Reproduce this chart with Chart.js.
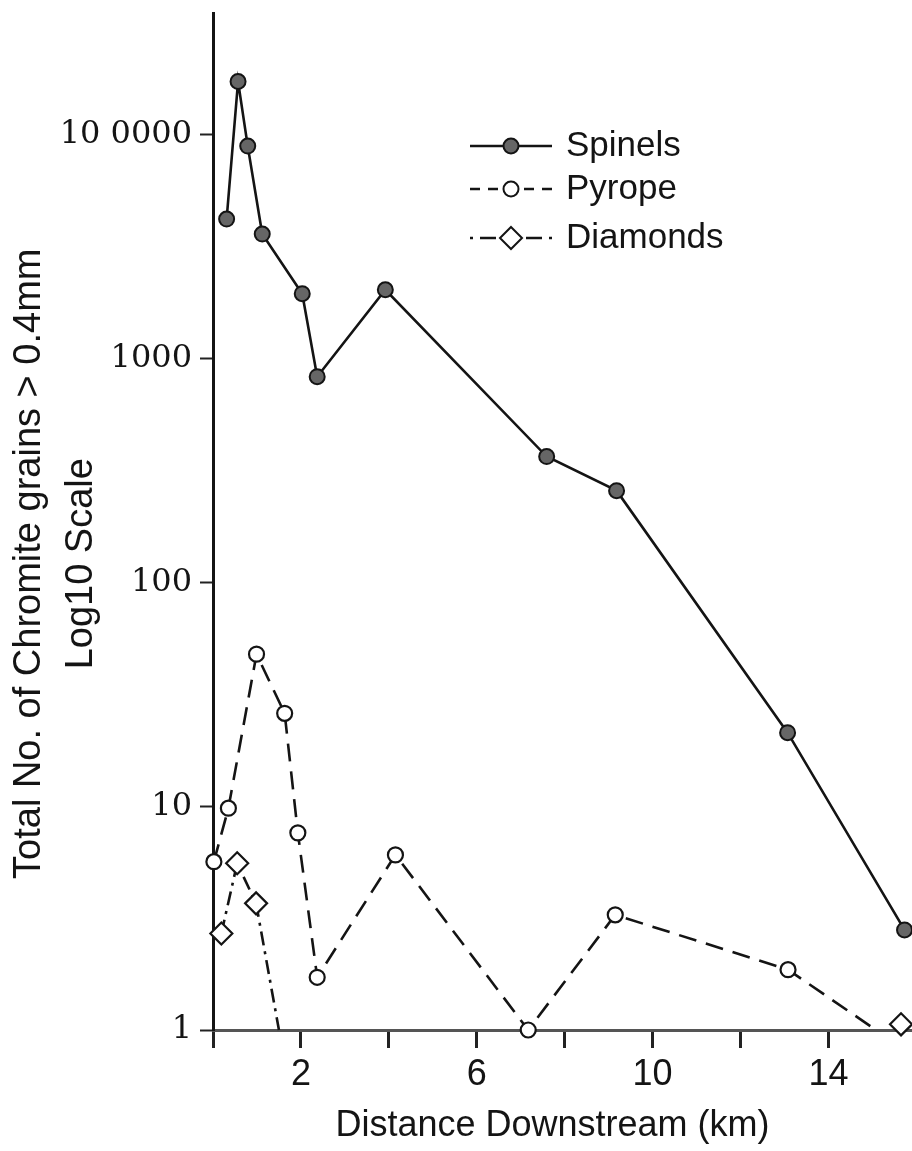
<!DOCTYPE html>
<html><head><meta charset="utf-8">
<script src="https://cdn.jsdelivr.net/npm/chart.js@4/dist/chart.umd.min.js"></script>
<style>html,body{margin:0;padding:0;background:#fff;overflow:hidden}#wrap{width:912px;height:1151px}canvas{display:block}</style>
</head><body><div id="wrap"><canvas id="c" width="912" height="1151"></canvas></div>
<script>
// ---- data ----
const seriesNames = ['Spinels', 'Pyrope', 'Diamonds'];
const spinelKm     = [0.31, 0.57, 0.79, 1.12, 2.03, 2.37, 3.92, 7.59, 9.18, 13.07, 15.73];
const spinelCount  = [4200, 17300, 8900, 3600, 1950, 830, 2030, 365, 257, 21.3, 2.8];
const pyropeKm     = [0.02, 0.35, 0.99, 1.63, 1.93, 2.37, 4.15, 7.17, 9.15, 13.08, 15.08];
const pyropeCount  = [5.65, 9.8, 47.8, 26, 7.6, 1.72, 6.06, 1.0, 3.27, 1.86, 1.0];
const diamondKm    = [0.19, 0.55, 0.98, 1.5, 15.65];
const diamondCount = [2.7, 5.56, 3.68, 1.0, 1.06];
const yTickValues  = [1, 10, 100, 1000, 10000];
const yTickLabels  = ['1', '10', '100', '1000', '10 0000'];
const xTickValues  = [0, 2, 4, 6, 8, 10, 12, 14];
const xTickLabels  = ['', '2', '', '6', '', '10', '', '14'];
const xTitle = 'Distance Downstream (km)';
const yTitle = ['Total No. of Chromite grains > 0.4mm', 'Log10 Scale'];

const pts = (xs, ys) => xs.map((x, i) => ({x: x, y: ys[i]}));
const INK = '#141414';
const SANS = '"Liberation Sans", Arial, sans-serif';
const YPAD = '        '; // trailing spaces nudge the rotated title down a little
const XPAD = '  ';       // and the x title a little to the left

const legendPlugin = {
  id: 'customLegend',
  afterDraw(chart) {
    const ctx = chart.ctx;
    const x0 = 470, x1 = 552, xm = 511, rows = [146, 189, 238];
    chart.data.datasets.forEach((ds, i) => {
      const y = rows[i];
      ctx.save();
      ctx.strokeStyle = INK; ctx.lineWidth = 2.5;
      ctx.setLineDash(ds.legendDash);
      ctx.beginPath(); ctx.moveTo(x0, y); ctx.lineTo(x1, y); ctx.stroke();
      ctx.setLineDash([]);
      ctx.fillStyle = ds.pointBackgroundColor; ctx.lineWidth = 2;
      ctx.beginPath();
      if (ds.pointStyle === 'rectRot') {
        const r = 11;
        ctx.moveTo(xm, y - r); ctx.lineTo(xm + r, y); ctx.lineTo(xm, y + r); ctx.lineTo(xm - r, y); ctx.closePath();
      } else {
        ctx.arc(xm, y, 7.5, 0, Math.PI * 2);
      }
      ctx.fill(); ctx.stroke();
      ctx.fillStyle = INK;
      ctx.font = '35px ' + SANS;
      ctx.textBaseline = 'middle';
      ctx.fillText(ds.label, 566, y);
      ctx.restore();
    });
  }
};

new Chart(document.getElementById('c'), {
  type: 'scatter',
  data: {
    datasets: [
      {
        label: seriesNames[0], data: pts(spinelKm, spinelCount), showLine: true,
        borderColor: INK, borderWidth: 2.6, legendDash: [],
        pointStyle: 'circle', pointRadius: 7.5, pointBorderWidth: 2,
        pointBackgroundColor: '#666', pointBorderColor: INK, clip: false
      },
      {
        label: seriesNames[1], data: pts(pyropeKm, pyropeCount), showLine: true,
        borderColor: INK, borderWidth: 2.6, borderDash: [18, 10], legendDash: [10, 8],
        pointStyle: 'circle', pointBorderWidth: 2.2,
        pointRadius: ctx => ctx.dataIndex === pyropeKm.length - 1 ? 0 : 7.5,
        pointBackgroundColor: '#fff', pointBorderColor: INK, clip: false
      },
      {
        label: seriesNames[2], data: pts(diamondKm, diamondCount), showLine: true,
        borderColor: INK, borderWidth: 2.6, borderDash: [14, 6, 3, 6], legendDash: [3, 7, 16, 30, 16, 7],
        segment: { borderColor: c => c.p0DataIndex === 3 ? 'rgba(0,0,0,0)' : INK },
        pointStyle: 'rectRot', pointBorderWidth: 2.2,
        pointRadius: ctx => ctx.dataIndex === 3 ? 0 : 11,
        pointBackgroundColor: '#fff', pointBorderColor: INK, clip: false
      }
    ]
  },
  options: {
    responsive: false, animation: false, devicePixelRatio: 1,
    layout: { autoPadding: false, padding: { top: 13, right: 0, left: 0, bottom: 0 } },
    plugins: { legend: { display: false }, tooltip: { enabled: false } },
    scales: {
      x: {
        type: 'linear', min: 0, max: 15.9,
        afterBuildTicks: s => { s.ticks = xTickValues.map(v => ({value: v})); },
        afterFit: s => { s.height = 121; s.paddingLeft = 0; s.paddingRight = 0; },
        ticks: {
          autoSkip: false, maxRotation: 0, padding: 5, color: INK,
          font: { family: SANS, size: 36 },
          callback: v => { const i = xTickValues.indexOf(v); return i >= 0 ? xTickLabels[i] : ''; }
        },
        grid: { drawOnChartArea: false, drawTicks: true, tickLength: 18, tickWidth: 3, tickColor: '#222' },
        border: { display: true, color: '#555', width: 3 },
        title: {
          display: true, text: xTitle + XPAD, color: INK, padding: { top: 0, bottom: 3 },
          font: { family: SANS, size: 36 }
        }
      },
      y: {
        type: 'logarithmic', min: 1, max: 35000,
        afterBuildTicks: s => { s.ticks = yTickValues.map(v => ({value: v})); },
        afterFit: s => { s.width = 213; s.paddingTop = 0; s.paddingBottom = 0; },
        ticks: {
          autoSkip: false, padding: 8, color: INK,
          font: { family: '"DejaVu Serif", serif', size: 32 },
          callback: v => { const i = yTickValues.indexOf(v); return i >= 0 ? yTickLabels[i] : ''; }
        },
        grid: { drawOnChartArea: false, drawTicks: true, tickLength: 13, tickWidth: 2, tickColor: '#222' },
        border: { display: true, color: INK, width: 3 },
        title: {
          display: true, text: yTitle.map(t => t + YPAD), color: INK, padding: { top: 3, bottom: 0 },
          font: { family: SANS, size: 38, lineHeight: 1.38 }
        }
      }
    }
  },
  plugins: [legendPlugin]
});
</script>
</body></html>
